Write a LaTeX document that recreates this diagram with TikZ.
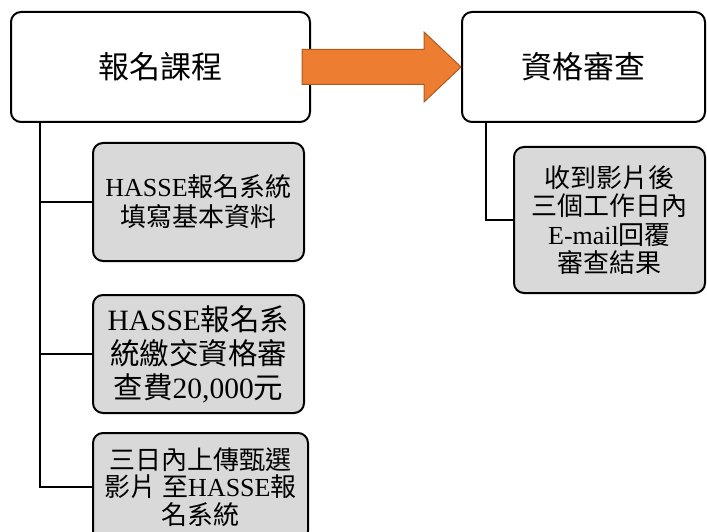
\documentclass[tikz,border=0pt]{standalone}
\usepackage{fontspec}
\setmainfont{Liberation Serif}
\newfontfamily\cjk{Noto Sans CJK TC}
\usetikzlibrary{calc}
\definecolor{boxgray}{HTML}{D9D9D9}
\definecolor{arroworange}{HTML}{ED7D31}
\definecolor{arrowedge}{HTML}{AE5A21}
\newcommand{\zh}[1]{{\cjk #1}}

\begin{document}
\begin{tikzpicture}[x=1pt,y=-1pt,
        stage/.style={draw,line width=2pt,rounded corners=10pt,fill=white,
            align=center,inner sep=0pt,font=\fontsize{31}{34}\selectfont\cjk},
        task/.style={draw,line width=2pt,rounded corners=10pt,fill=boxgray,
            align=center,inner sep=0pt,font=\fontsize{26}{28.5}\selectfont},
        link/.style={line width=2pt},
        bigarrow/.style={fill=arroworange,draw=arrowedge,line width=1pt}]
    \useasboundingbox (0,0) rectangle (707,532);
    % main stages
    \node[stage,minimum width=299pt,minimum height=110pt] (enroll) at (160.5,67) {報名課程};
    \node[stage,minimum width=243pt,minimum height=110pt] (review) at (583.5,67) {資格審查};
    % tasks under each stage
    \node[task,minimum width=211pt,minimum height=118pt,font=\fontsize{26}{30}\selectfont] (stepA) at (198.5,202)
        {HASSE\zh{報名系統}\\\zh{填寫基本資料}};
    \node[task,minimum width=211pt,minimum height=118pt,font=\fontsize{29.5}{34}\selectfont] (stepB) at (198.5,354)
        {HASSE\zh{報名系}\\\zh{統繳交資格審}\\\zh{查費}20,000\zh{元}};
    \node[task,minimum width=215pt,minimum height=108pt,font=\fontsize{26}{27.5}\selectfont] (stepC) at (200.5,487)
        {\zh{三日內上傳甄選}\\\zh{影片 至}HASSE\zh{報}\\\zh{名系統}};
    \node[task,minimum width=191pt,minimum height=146pt] (reply) at (609.5,220)
        {\zh{收到影片後}\\\zh{三個工作日內}\\E-mail\zh{回覆}\\\zh{審查結果}};
    % connectors
    \coordinate (trunk) at ($(enroll.south west)+(30,0)$);
    \coordinate (trunkR) at ($(review.south west)+(25,0)$);
    \draw[link] (trunk) |- (stepC.west);
    \foreach \s in {stepA,stepB}
        \draw[link] (trunk |- \s.west) -- (\s.west);
    \draw[link] (trunkR) |- (reply.west);
    % arrow between the stages
    \draw[bigarrow] ($(enroll.east)+(-9,-17.5)$) -- ($(review.west)+(-37,-17.5)$)
        -- ($(review.west)+(-37,-35)$) -- (review.west) -- ($(review.west)+(-37,35)$)
        -- ($(review.west)+(-37,17.5)$) -- ($(enroll.east)+(-9,17.5)$) -- cycle;
\end{tikzpicture}
\end{document}
